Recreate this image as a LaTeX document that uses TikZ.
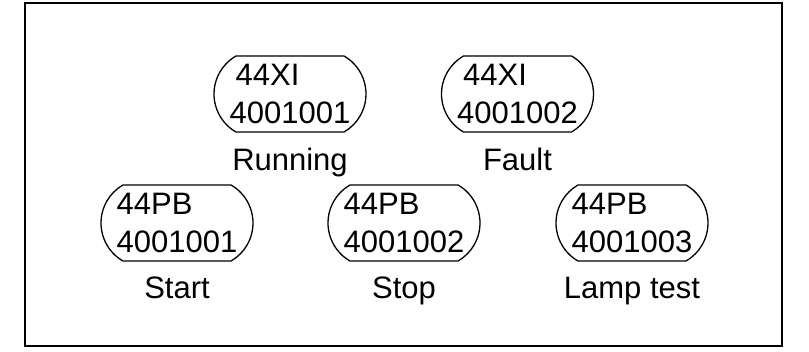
\documentclass[tikz,border=0pt]{standalone}
\usepackage{fontspec}
\setmainfont{Liberation Sans}
\usetikzlibrary{shapes.misc}
\usetikzlibrary{positioning}

\begin{document}
\begin{tikzpicture}[x=1pt, y=-1pt, every node/.style={font=\fontsize{31}{38.5}\selectfont}]
      \useasboundingbox (0,0) rectangle (809,352);
      \draw [line width=2pt] (25,3) rectangle (782,346);

      % indicator lamps
      \node [rounded rectangle, rounded rectangle arc length=120, draw, line width=1.3pt,
      minimum width=152pt, minimum height=76pt, inner sep=0pt, align=left, name=run] at (290,94)
      {\hspace*{6pt}44XI\\4001001};
      \node [below=16pt of run, inner sep=0pt, text height=22pt, text depth=6pt, name=runtxt]
      {Running};

      \node [rounded rectangle, rounded rectangle arc length=120, draw, line width=1.3pt,
      minimum width=152pt, minimum height=76pt, inner sep=0pt, align=left, name=flt] at (517.5,94)
      {\hspace*{6pt}44XI\\4001002};
      \node [below=16pt of flt, inner sep=0pt, text height=22pt, text depth=6pt, name=flttxt]
      {Fault};

      % push buttons
      \node [rounded rectangle, rounded rectangle arc length=120, draw, line width=1.3pt,
      minimum width=152pt, minimum height=76pt, inner sep=0pt, align=left, name=start] at (177,223)
      {44PB\\4001001};
      \node [below=15pt of start, inner sep=0pt, text height=22pt, text depth=6pt, name=starttxt]
      {Start};

      \node [rounded rectangle, rounded rectangle arc length=120, draw, line width=1.3pt,
      minimum width=152pt, minimum height=76pt, inner sep=0pt, align=left, name=stop] at (404,223)
      {44PB\\4001002};
      \node [below=15pt of stop, inner sep=0pt, text height=22pt, text depth=6pt, name=stoptxt]
      {Stop};

      \node [rounded rectangle, rounded rectangle arc length=120, draw, line width=1.3pt,
      minimum width=152pt, minimum height=76pt, inner sep=0pt, align=left, name=lamp] at (632,223)
      {44PB\\4001003};
      \node [below=15pt of lamp, inner sep=0pt, text height=22pt, text depth=6pt, name=lamptxt]
      {Lamp test};
\end{tikzpicture}
\end{document}
